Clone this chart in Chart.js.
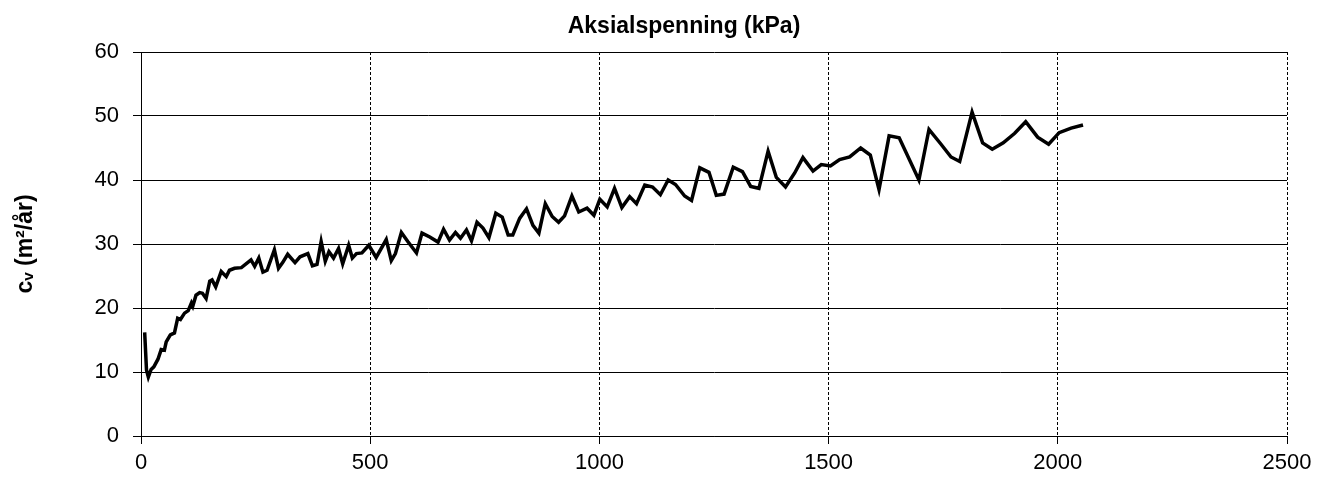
<!DOCTYPE html>
<html>
<head>
<meta charset="utf-8">
<script src="https://cdn.jsdelivr.net/npm/chart.js@4"></script>
<style>
  html, body { margin: 0; padding: 0; background: #fff; }
  #wrap { width: 1327px; height: 477px; }
</style>
</head>
<body>
<div id="wrap"><canvas id="cvChart" width="1327" height="477"></canvas></div>
<script>
// Aksialspenning (kPa) and cv (m2/år)
var stress = [8, 12, 16, 22, 28, 37, 44, 51, 55, 64, 73, 80, 86, 95, 103, 110, 113, 120, 128, 134,
    142, 150, 155, 163, 175, 186, 193, 204, 219, 240, 248, 257, 266, 275, 291, 300, 309, 320, 336, 347,
    364, 374, 384, 393, 402, 410, 420, 431, 440, 453, 461, 470, 482, 497, 513, 535, 546, 555, 568, 582,
    601, 613, 630, 648, 660, 673, 686, 697, 710, 721, 733, 746, 759, 774, 788, 801, 811, 826, 841, 855,
    868, 882, 897, 911, 924, 940, 955, 973, 988, 1001, 1017, 1033, 1049, 1066, 1081, 1099, 1116, 1133, 1150, 1166,
    1186, 1201, 1219, 1239, 1255, 1272, 1292, 1312, 1330, 1348, 1368, 1386, 1406, 1426, 1444, 1466, 1484, 1504, 1524, 1546,
    1570, 1591, 1610, 1632, 1654, 1697, 1719, 1744, 1767, 1786, 1813, 1836, 1857, 1881, 1906, 1930, 1956, 1980, 2003, 2029,
    2055];
var cv = [16.2, 10.3, 9.2, 10.4, 10.8, 12.0, 13.5, 13.4, 14.7, 15.8, 16.1, 18.4, 18.2, 19.2, 19.6, 20.8, 20.3, 22.0, 22.4, 22.3,
    21.5, 24.2, 24.4, 23.3, 25.7, 24.9, 25.9, 26.2, 26.3, 27.5, 26.5, 27.8, 25.6, 25.9, 29.1, 26.2, 27.1, 28.4, 27.1, 28.0,
    28.5, 26.6, 26.8, 30.4, 27.3, 28.8, 27.8, 29.3, 26.9, 29.8, 27.8, 28.5, 28.6, 29.8, 27.9, 30.7, 27.4, 28.5, 31.8, 30.4,
    28.6, 31.7, 31.1, 30.3, 32.3, 30.6, 31.8, 30.9, 32.2, 30.5, 33.4, 32.5, 31.0, 34.8, 34.2, 31.4, 31.4, 34.0, 35.5, 32.9,
    31.7, 36.3, 34.3, 33.4, 34.4, 37.5, 35.0, 35.6, 34.5, 37.0, 35.8, 38.7, 35.7, 37.4, 36.3, 39.2, 38.9, 37.7, 40.0, 39.3,
    37.5, 36.8, 41.9, 41.2, 37.6, 37.8, 42.0, 41.3, 39.0, 38.7, 44.5, 40.4, 38.9, 41.1, 43.5, 41.4, 42.4, 42.2, 43.2, 43.6,
    45.0, 43.9, 38.5, 46.9, 46.6, 40.0, 47.9, 45.7, 43.6, 42.9, 50.6, 45.8, 44.8, 45.8, 47.3, 49.1, 46.7, 45.6, 47.4, 48.1,
    48.6];

var xTitle = 'Aksialspenning (kPa)';
var yTitle = 'c\u1D65 (m\u00B2/\u00E5r)';

var points = stress.map(function (s, i) { return { x: s, y: cv[i] }; });

var fontFamily = '"Liberation Sans", Arial, sans-serif';

// the axis title sits above the plot, as in the original
var topTitle = {
    id: 'topTitle',
    afterDraw: function (chart) {
        var ctx = chart.ctx;
        ctx.save();
        ctx.font = 'bold 23px ' + fontFamily;
        ctx.fillStyle = '#000';
        ctx.textAlign = 'center';
        ctx.textBaseline = 'alphabetic';
        ctx.fillText(xTitle, 684, 33);
        ctx.restore();
    }
};

var ctx = document.getElementById('cvChart').getContext('2d');
var cvChart = new Chart(ctx, {
    type: 'line',
    data: {
        datasets: [{
            data: points,
            borderColor: '#000',
            borderWidth: 3.5,
            pointRadius: 0,
            fill: false,
            tension: 0
        }]
    },
    options: {
        responsive: false,
        animation: false,
        layout: { padding: { top: 52, right: 40, bottom: 0, left: 0 } },
        plugins: {
            legend: { display: false },
            tooltip: { enabled: false }
        },
        scales: {
            x: {
                type: 'linear',
                min: 0,
                max: 2500,
                ticks: {
                    stepSize: 500, color: '#000', padding: 6,
                    font: { family: fontFamily, size: 22 },
                    callback: function (v) { return String(v); }
                },
                grid: { color: '#000', lineWidth: 1, tickLength: 8, tickBorderDash: [] },
                border: { color: '#000', width: 1, dash: [3, 2] },
                afterFit: function (scale) { scale.height = 41; }
            },
            y: {
                min: 0,
                max: 60,
                ticks: { stepSize: 10, color: '#000', padding: 14, font: { family: fontFamily, size: 22 } },
                grid: { color: '#000', lineWidth: 1, tickLength: 8 },
                border: { color: '#000', width: 1 },
                title: {
                    display: true,
                    text: yTitle,
                    color: '#000',
                    padding: { top: 12, bottom: 0 },
                    font: { family: fontFamily, size: 23, weight: 'bold' }
                },
                afterFit: function (scale) { scale.width = 141; }
            }
        }
    },
    plugins: [topTitle]
});
</script>
</body>
</html>
